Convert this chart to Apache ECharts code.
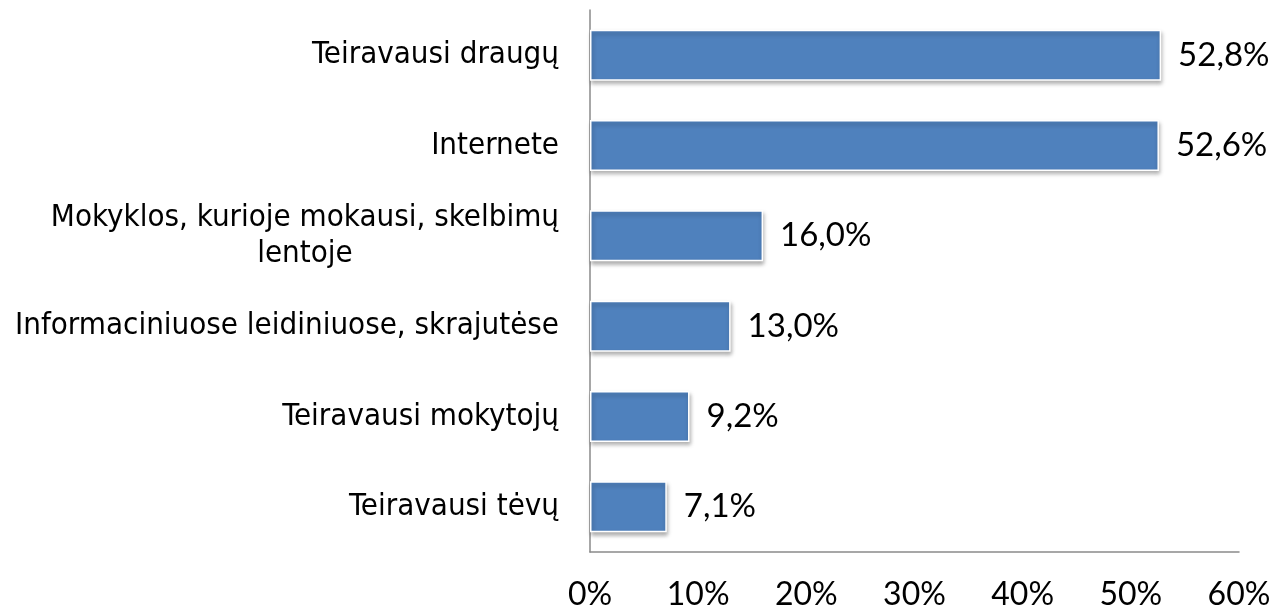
<!DOCTYPE html>
<html>
<head>
<meta charset="utf-8">
<script src="https://cdn.jsdelivr.net/npm/echarts@6/dist/echarts.min.js"></script>
<style>html,body{margin:0;padding:0;background:#fff}#c{width:1276px;height:610px}</style>
</head>
<body>
<div id="c"></div>
<script>
const categories = [
  "Teiravausi draugų",
  "Internete",
  "Mokyklos, kurioje mokausi, skelbimų\nlentoje",
  "Informaciniuose leidiniuose, skrajutėse",
  "Teiravausi mokytojų",
  "Teiravausi tėvų"
];
const values = [52.8, 52.6, 16.0, 13.0, 9.2, 7.1];
const xTicks = [0, 10, 20, 30, 40, 50, 60];

const catFont = '"DejaVu Sans Condensed", "DejaVu Sans", sans-serif';
const catSize = 31;
const numFont = 'Lato, "Open Sans", sans-serif';

function measure(text) {
  const c = document.createElement('canvas').getContext('2d');
  c.font = catSize + 'px ' + catFont;
  return c.measureText(text).width;
}

const chart = echarts.init(document.getElementById('c'));
chart.setOption({
  animation: false,
  grid: { left: 590, right: 37, top: 10, bottom: 58, outerBoundsMode: 'none' },
  xAxis: {
    type: 'value', min: 0, max: 60, interval: 10,
    splitLine: { show: false },
    axisLine: { show: true, lineStyle: { color: '#8a8a8a', width: 1.5 } },
    axisTick: { show: false },
    axisLabel: {
      margin: 27, fontFamily: numFont, fontSize: 32, color: '#000',
      formatter: v => xTicks.includes(v) ? v + '%' : ''
    }
  },
  yAxis: {
    type: 'category', data: categories, inverse: true,
    axisLine: { show: true, lineStyle: { color: '#8a8a8a', width: 1.5 } },
    axisTick: { show: false },
    axisLabel: {
      margin: 31, fontFamily: catFont, fontSize: catSize, color: '#000', lineHeight: 36,
      formatter: function (v) {
        if (v.indexOf('\n') >= 0) {
          return v.split('\n').map(l => '{c|' + l + '}').join('\n');
        }
        return v;
      },
      rich: {
        c: {
          fontFamily: catFont, fontSize: catSize, color: '#000', lineHeight: 36,
          align: 'center',
          width: measure("Mokyklos, kurioje mokausi, skelbimų")
        }
      }
    }
  },
  series: [{
    type: 'bar', data: values, barWidth: 51,
    itemStyle: {
      color: '#4F81BD', borderColor: '#ffffff', borderWidth: 1.5,
      shadowColor: 'rgba(0,0,0,0.3)', shadowBlur: 4, shadowOffsetX: 1, shadowOffsetY: 3
    },
    label: {
      show: true, position: 'right', distance: 17,
      fontFamily: numFont, fontSize: 33, color: '#000',
      formatter: p => p.value.toFixed(1).replace('.', ',') + '%'
    }
  }]
});
</script>
</body>
</html>
